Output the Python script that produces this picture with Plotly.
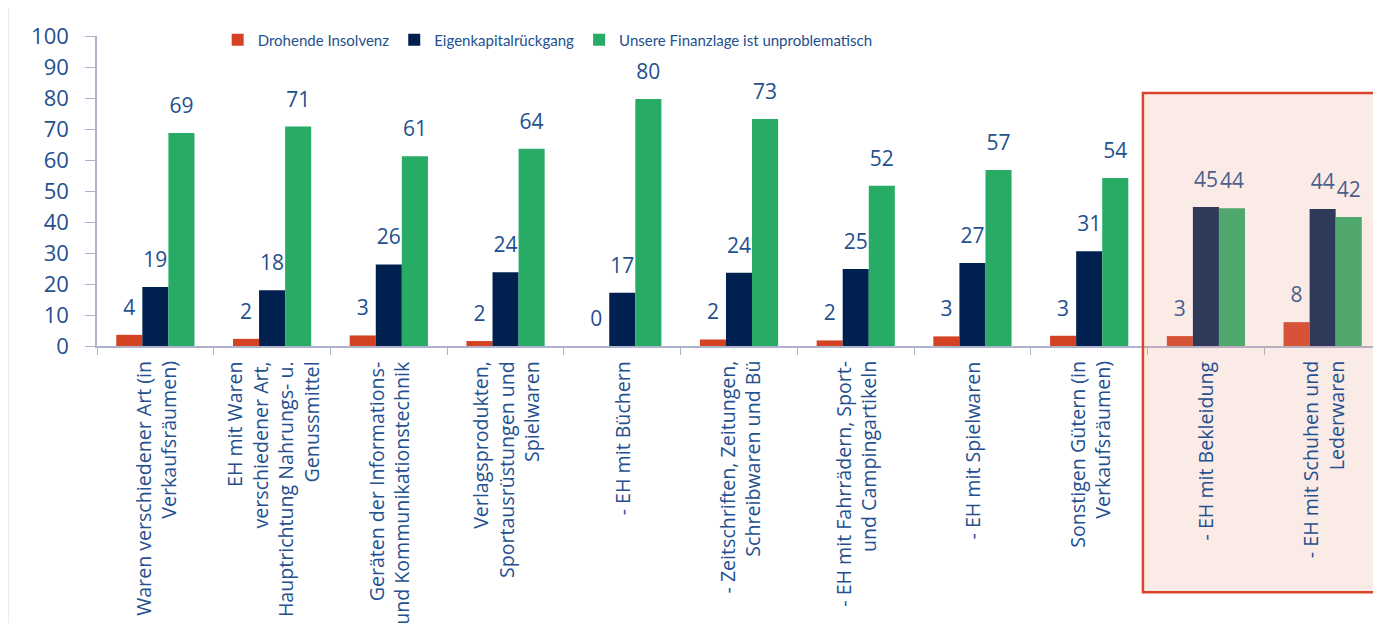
import plotly.graph_objects as go

categories = [
    "Waren verschiedener Art (in<br>Verkaufsräumen)",
    "EH mit Waren<br>verschiedener Art,<br>Hauptrichtung Nahrungs- u.<br>Genussmittel",
    "Geräten der Informations-<br>und Kommunikationstechnik",
    "Verlagsprodukten,<br>Sportausrüstungen und<br>Spielwaren",
    "- EH mit Büchern",
    "- Zeitschriften, Zeitungen,<br>Schreibwaren und Bü",
    "- EH mit Fahrrädern, Sport-<br>und Campingartikeln",
    "- EH mit Spielwaren",
    "Sonstigen Gütern (in<br>Verkaufsräumen)",
    "- EH mit Bekleidung",
    "- EH mit Schuhen und<br>Lederwaren",
]
insolvenz = [3.6, 2.3, 3.4, 1.6, 0, 2.1, 1.8, 3.1, 3.3, 3.2, 7.7]
eigenkapital = [19, 18, 26.3, 23.8, 17.2, 23.6, 24.8, 26.8, 30.6, 44.8, 44.2]
unproblematisch = [68.7, 70.8, 61.2, 63.6, 79.7, 73.2, 51.7, 56.8, 54.2, 44.4, 41.6]

series_names = ["Drohende Insolvenz", "Eigenkapitalrückgang", "Unsere Finanzlage ist unproblematisch"]
series_colors = ["#D24223", "#00214F", "#28AB64"]

text_blue = "#24508F"
axis_grey = "#AEB2CC"
font_family = "Open Sans"

fig = go.Figure()

for name, vals, col in zip(series_names, [insolvenz, eigenkapital, unproblematisch], series_colors):
    fig.add_trace(go.Bar(x=categories, y=vals, name=name, marker_color=col,
                         marker_line_width=0, offsetgroup=name))

# value labels, lifted a bit above the bars like in the original
for name, vals in zip(series_names, [insolvenz, eigenkapital, unproblematisch]):
    fig.add_trace(go.Scatter(x=categories, y=vals, mode="markers+text", offsetgroup=name,
                             text=[f"{v:.0f}" for v in vals], textposition="top center",
                             marker=dict(size=22, opacity=0), cliponaxis=False,
                             textfont=dict(size=21, color=text_blue, family=font_family),
                             showlegend=False, hoverinfo="skip"))

# page body adds 8px, margins are set so the plot lands where the original has it
fig.update_layout(
    width=1381, height=623,
    margin=dict(l=89, r=8, t=28, b=285, autoexpand=False),
    barmode="group", bargap=0.33, bargroupgap=0,
    scattermode="group", scattergap=0.33,
    plot_bgcolor="white", paper_bgcolor="white",
    font=dict(family=font_family, color=text_blue),
    legend=dict(orientation="h", x=0.351, xanchor="center", y=0.987, yanchor="middle",
                font=dict(size=15, color=text_blue, family="Lato"),
                bgcolor="rgba(0,0,0,0)", traceorder="normal"),
    showlegend=True,
)

fig.update_xaxes(type="category", tickson="boundaries", ticks="outside", showticklabels=False,
                 ticklen=7, tickcolor=axis_grey, showline=True, linecolor=axis_grey,
                 linewidth=1.5, showgrid=False, automargin=False)
fig.update_yaxes(range=[0, 100], dtick=10, ticks="outside", ticklen=10, tickcolor=axis_grey,
                 showline=True, linecolor=axis_grey, linewidth=1.5, showgrid=False,
                 zeroline=False, automargin=False, ticklabelstandoff=12,
                 tickfont=dict(size=22, color=text_blue))

# category labels, rotated and centred under each group
for cat in categories:
    fig.add_annotation(x=cat, xref="x", y=0, yref="paper", yanchor="top", xanchor="center",
                       yshift=-13, textangle=-90, align="right", showarrow=False, text=cat,
                       font=dict(size=19.6, color=text_blue, family=font_family))

# highlight box around the last two categories
fig.add_shape(type="rect", xref="paper", yref="paper", x0=0.8146, x1=1.01, y0=-0.794, y1=0.816,
              fillcolor="rgba(235,155,135,0.2)", line=dict(color="#D9442B", width=2.5),
              layer="above")
# thin frame line on the left
fig.add_shape(type="line", xref="paper", yref="paper", x0=-0.0693, x1=-0.0693, y0=-0.9, y1=1.12,
              line=dict(color="#D9D9D9", width=1))

fig.write_html("out.html")
